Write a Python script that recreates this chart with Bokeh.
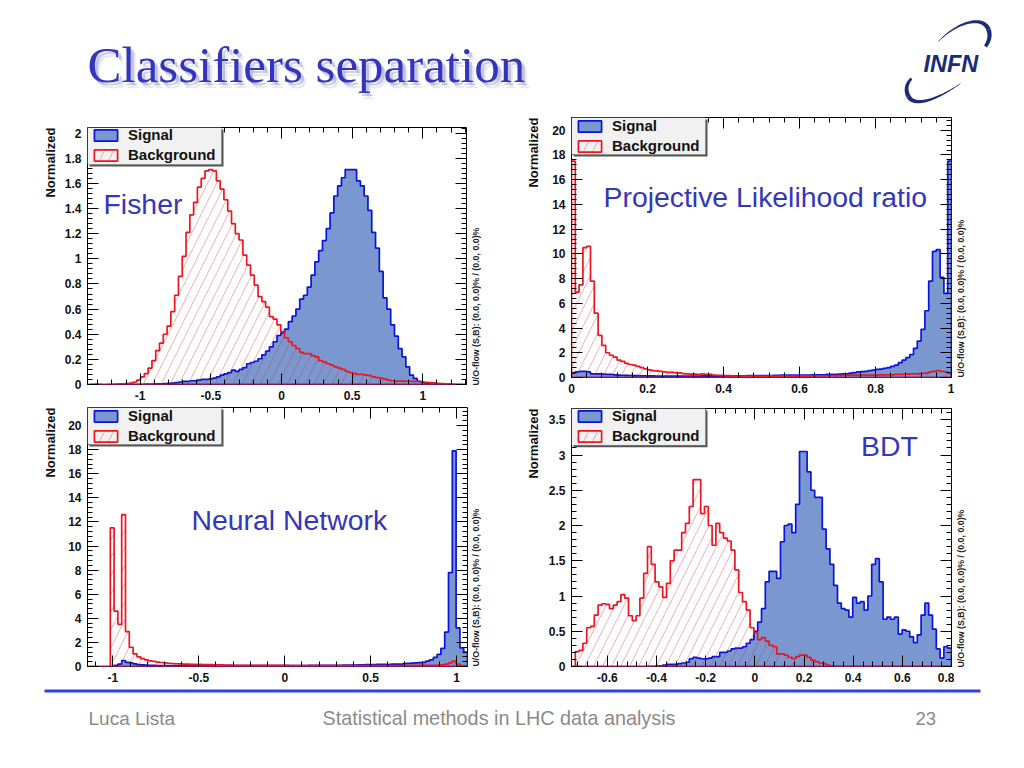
import numpy as np
from bokeh.plotting import figure
from bokeh.layouts import column, row
from bokeh.models import (Range1d, FixedTicker, LinearAxis, Label, Legend, LegendItem,
                          BoxAnnotation, CustomJSTickFormatter)
from bokeh.embed import file_html
from bokeh.resources import INLINE

fisher_signal = [0,0,0,0,0,0,0,0,0,0, 0,.001,.001,.001,.002,.003,.003,.004,.005,.006,
 .008,.01,.012,.015,.02,.025,.025,.03,.03,.035, .04,.04,.045,.05,.06,.075,.085,.095,.115,.105,
 .12,.135,.165,.175,.185,.205,.235,.265,.30,.34, .39,.41,.44,.50,.545,.60,.68,.71,.775,.87,
 .975,1.065,1.145,1.24,1.365,1.5,1.58,1.645,1.71,1.71, 1.71,1.62,1.58,1.5,1.385,1.21,1.085,.90,.69,.60,
 .475,.385,.285,.22,.14,.075,.048,.026,.018,.012, .008,.005,.003,.002,.001,0,0,0,0,0]
fisher_background = [0,.001,.003,.001,0,.001,.002,.004,.005,.006, .008,.012,.02,.035,.06,.087,.13,.19,.27,.33,
 .40,.465,.58,.71,.86,1.02,1.21,1.35,1.45,1.57, 1.64,1.70,1.71,1.70,1.62,1.555,1.47,1.38,1.28,1.2,
 1.15,1.03,.95,.87,.79,.70,.66,.615,.54,.52, .475,.42,.37,.34,.31,.285,.255,.245,.245,.23,
 .22,.19,.18,.165,.155,.14,.13,.12,.105,.095, .087,.08,.08,.075,.07,.06,.055,.05,.042,.035,
 .03,.027,.027,.027,.026,.026,.025,.024,.02,.018, .015,.013,.01,.008,.006,.005,.003,.002,.001,0]

likelihood_signal = [.35,.45,.5,.5,.45,.3,.3,.3,.28,.26, .25,.22,.2,.18,.17,.16,.15,.15,.14,.14,
 .13,.13,.12,.12,.12,.12,.12,.12,.12,.12, .12,.12,.12,.12,.13,.13,.13,.13,.13,.13,
 .13,.13,.14,.14,.14,.14,.15,.15,.15,.15, .15,.15,.16,.17,.18,.19,.2,.2,.2,.2,
 .2,.2,.2,.21,.21,.22,.22,.25,.25,.26, .28,.3,.3,.35,.4,.45,.48,.5,.55,.6,
 .65,.68,.75,.8,.9,1.0,1.2,1.4,1.6,1.85, 2.35,2.95,3.9,5.4,7.8,10.2,10.35,8.1,6.8,17.5]
likelihood_background = [17.5,6.9,7.5,10.5,10.6,7.8,5.2,3.4,2.6,2.0, 1.8,1.65,1.4,1.3,1.15,1.05,1.0,.9,.8,.7,
 .62,.55,.53,.5,.45,.42,.42,.4,.38,.32, .3,.28,.28,.25,.3,.25,.25,.2,.18,.17,
 .15,.15,.13,.12,.12,.12,.12,.12,.12,.12, .12,.12,.13,.12,.12,.13,.13,.12,.13,.12,
 .13,.13,.13,.14,.14,.14,.14,.16,.16,.15, .16,.17,.18,.19,.19,.2,.2,.2,.2,.2,
 .2,.22,.22,.22,.22,.25,.25,.25,.28,.3, .3,.32,.33,.35,.45,.5,.55,.5,.45,.35]

nn_signal = [0,0,0,0,0,0,0,.1,.2,.5, .35,.3,.22,.15,.14,.12,.1,.09,.08,.08,
 .08,.08,.08,.08,.08,.08,.08,.08,.08,.08, .07,.07,.07,.07,.07,.07,.07,.07,.07,.07,
 .07,.07,.07,.07,.07,.07,.07,.07,.07,.07, .08,.08,.08,.08,.08,.08,.08,.08,.09,.09,
 .09,.09,.09,.1,.1,.1,.1,.11,.11,.11, .12,.13,.14,.15,.16,.16,.17,.17,.18,.18,
 .19,.2,.2,.24,.26,.28,.3,.32,.35,.45, .55,.75,1.0,1.5,2.85,7.8,17.9,3.2,1.55,1.2]
nn_background = [0,0,0,0,0,0,11.5,4.6,3.5,12.6, 2.9,1.6,1.05,.8,.65,.55,.47,.42,.37,.33,
 .3,.27,.25,.23,.22,.2,.2,.18,.18,.17, .16,.15,.15,.14,.14,.13,.12,.12,.1,.1,
 .09,.09,.09,.09,.09,.09,.09,.09,.09,.09, .09,.09,.09,.08,.08,.08,.08,.08,.08,.08,
 .08,.08,.08,.08,.08,.08,.08,.08,.08,.08, .08,.08,.08,.08,.08,.08,.08,.08,.08,.08,
 .08,.08,.08,.08,.08,.09,.09,.09,.09,.09, .09,.1,.12,.14,.2,.3,.45,.2,.08,.05]

bdt_signal = [0,0,0,0,0,0,0,0,0,0, 0,0,0,0,0,0,0,0,0,0,
 .002,.003,.005,.01,.02,.03,.03,.03,.04,.05, .06,.11,.13,.12,.11,.11,.12,.14,.14,.2,
 .2,.22,.25,.26,.26,.28,.33,.38,.5,.63, .82,1.2,1.35,1.35,1.25,1.77,2.0,2.02,1.9,2.3,
 3.05,3.05,2.76,2.5,2.4,2.4,1.95,1.67,1.45,1.15, .9,.82,.8,.7,.98,.9,.92,.8,1.0,1.45,
 1.53,1.2,.67,.7,.67,.7,.46,.52,.5,.42, .34,.45,.73,.9,.73,.53,.25,.12,.28,.26]
bdt_background = [0,.21,.23,.33,.55,.57,.73,.87,.89,.88, .82,.87,.92,1.02,.97,.72,.65,.72,.97,1.32,
 1.7,1.45,1.2,1.13,.98,1.18,1.5,1.65,1.65,1.9, 2.03,2.27,2.65,2.65,2.17,2.27,2.0,1.72,2.03,1.9,
 1.82,1.78,1.65,1.37,1.05,.92,.8,.55,.48,.38, .41,.36,.3,.28,.18,.18,.16,.13,.11,.14,
 .16,.16,.13,.09,.07,.05,.04,.02,.01,.005, .003,.003,.003,.002,.002,.002,.002,.002,.002,.002,
 .002,.002,.002,.002,.002,.002,.002,.002,.002,.002, .002,.002,.002,.002,.002,.002,.002,.002,.002,.002]

fisher_xticks = [-1, -0.5, 0, 0.5, 1]
fisher_yticks = [0, .2, .4, .6, .8, 1, 1.2, 1.4, 1.6, 1.8, 2]
likelihood_xticks = [0, .2, .4, .6, .8, 1]
likelihood_yticks = [0, 2, 4, 6, 8, 10, 12, 14, 16, 18, 20]
nn_xticks = [-1, -0.5, 0, 0.5, 1]
nn_yticks = [0, 2, 4, 6, 8, 10, 12, 14, 16, 18, 20]
bdt_xticks = [-.6, -.4, -.2, 0, .2, .4, .6, .8]
bdt_yticks = [0, .5, 1, 1.5, 2, 2.5, 3, 3.5]

TITLE = "Classifiers separation"
UO = "U/O-flow (S,B): (0.0, 0.0)% / (0.0, 0.0)%"
YLABEL = "Normalized"
BLUE_TEXT = "#3636b8"
SANS = "Liberation Sans"


def minor(ticks, lo, hi, n=5):
    step = (ticks[1] - ticks[0]) / n
    k0 = int(np.ceil((lo - ticks[0]) / step))
    k1 = int(np.floor((hi - ticks[0]) / step))
    return [round(ticks[0] + k * step, 6) for k in range(k0, k1 + 1)]


def outline(values, lo, hi):
    edges = np.linspace(lo, hi, len(values) + 1)
    xs, ys = [edges[0]], [0.0]
    for i, v in enumerate(values):
        xs += [edges[i], edges[i + 1]]
        ys += [v, v]
    xs.append(edges[-1])
    ys.append(0.0)
    return xs, ys


def slide_area(x0, y0, x1, y1):
    """A figure without axes whose data coordinates are the slide's pixels."""
    f = figure(width=x1 - x0, height=y1 - y0, x_range=Range1d(x0, x1), y_range=Range1d(y1, y0),
               x_axis_type=None, y_axis_type=None, min_border=0, output_backend="svg",
               toolbar_location=None, outline_line_color=None, frame_align=False)
    f.grid.visible = False
    return f


def side_text(text, x0, y0, x1, y1, x, y, align, size, color):
    f = slide_area(x0, y0, x1, y1)
    f.add_layout(Label(x=x, y=y, text=text, angle=90, angle_units="deg", text_align=align,
                       text_baseline="middle", text_font=SANS, text_font_style="bold",
                       text_font_size=size, text_color=color))
    return f


def panel(sig, bkg, xr, yr, xticks, yticks, box, frame, caption, legend_dy):
    bx0, by0, bx1, by1 = box
    fx0, fy0, fx1, fy1 = frame
    p = figure(width=bx1 - bx0, height=by1 - by0, x_range=Range1d(*xr), y_range=Range1d(*yr),
               min_border_left=fx0 - bx0, min_border_right=bx1 - fx1,
               min_border_top=fy0 - by0, min_border_bottom=by1 - fy1,
               output_backend="svg", toolbar_location=None, background_fill_color="white",
               border_fill_color="white", frame_align=False)
    p.grid.visible = False
    p.outline_line_color = "black"
    p.outline_line_width = 1
    X = lambda px: xr[0] + (px - fx0) / (fx1 - fx0) * (xr[1] - xr[0])
    Y = lambda py: yr[0] + (fy1 - py) / (fy1 - fy0) * (yr[1] - yr[0])
    xt = FixedTicker(ticks=xticks, minor_ticks=minor(xticks, *xr))
    yt = FixedTicker(ticks=yticks, minor_ticks=minor(yticks, *yr))
    blank = CustomJSTickFormatter(code="return ''")
    top_axis = LinearAxis(ticker=xt, formatter=blank)
    right_axis = LinearAxis(ticker=yt, formatter=blank)
    p.add_layout(top_axis, "above")
    p.add_layout(right_axis, "right")
    p.xaxis.ticker = xt
    p.yaxis.ticker = yt
    for ax in list(p.xaxis) + list(p.yaxis):
        ax.axis_line_color = None
        ax.major_tick_in = 11
        ax.major_tick_out = 0
        ax.minor_tick_in = 5
        ax.minor_tick_out = 0
        ax.major_tick_line_width = 1
        ax.major_label_text_font = SANS
        ax.major_label_text_font_style = "bold"
        ax.major_label_text_font_size = "12px"
        ax.major_label_text_color = "#111111"
        ax.major_label_standoff = 6
    p.below[0].formatter = CustomJSTickFormatter(code="return String(Math.round(tick * 1000) / 1000)")
    top_axis.major_label_standoff = 0
    right_axis.major_label_standoff = 0
    sx, sy = outline(sig, *xr)
    bx, by = outline(bkg, *xr)
    r1 = p.patch(sx, sy, fill_color="#7a98cf", line_color="#0a14d8", line_width=1.7)
    r2 = p.patch(bx, by, fill_color=None, line_color="#ee1520", line_width=1.7,
                 hatch_pattern="right_diagonal_line", hatch_color="#d8202a", hatch_weight=0.5,
                 hatch_scale=18, hatch_alpha=0.7)
    # legend box with shadow
    lx0, ly0, lx1, ly1 = fx0, fy0, fx0 + 134, fy0 + 37
    p.add_layout(BoxAnnotation(left=X(lx0 + 2), right=X(lx1 + 2), bottom=Y(ly1 + 2), top=Y(ly0 + 2),
                               fill_color="#555555", fill_alpha=1, line_color=None))
    p.add_layout(BoxAnnotation(left=X(lx0), right=X(lx1), bottom=Y(ly1), top=Y(ly0),
                               fill_color="#f1f1f1", fill_alpha=1, line_color="#333333", line_width=0.6))
    leg = Legend(items=[LegendItem(label="Signal", renderers=[r1]),
                        LegendItem(label="Background", renderers=[r2])],
                 location=(4, (fy1 - fy0) - 36 - legend_dy), background_fill_alpha=0, border_line_color=None,
                 padding=2, spacing=3, margin=0, glyph_width=29, glyph_height=14, label_standoff=8,
                 label_text_font=SANS, label_text_font_style="bold", label_text_font_size="15px",
                 label_text_color="#111111", label_height=14)
    p.add_layout(leg)
    p.add_layout(Label(x=X(caption[1]), y=Y(caption[2]), text=caption[0], text_font=SANS,
                       text_font_size="28.4px", text_color=BLUE_TEXT, text_baseline="middle"))
    return p


# header
header = slide_area(0, 0, 1016, 113)
for dx, dy, a in ((5, 6, .12), (3, 3.5, .25)):
    header.add_layout(Label(x=87 + dx, y=92 + dy, text=TITLE, text_font="Liberation Serif",
                            text_font_size="51px", text_color="#40409a", text_alpha=a))
header.add_layout(Label(x=87, y=92, text=TITLE, text_font="Liberation Serif",
                        text_font_size="51px", text_color="#3434bc"))


def crescent(p0, p1, p2, p3, w0, w1, color):
    t = np.linspace(0, 1, 60)[:, None]
    P = ((1 - t) ** 3) * np.array(p0) + 3 * ((1 - t) ** 2) * t * np.array(p1) + 3 * (1 - t) * t ** 2 * np.array(p2) + t ** 3 * np.array(p3)
    d = np.gradient(P, axis=0)
    n = np.stack([-d[:, 1], d[:, 0]], axis=1) / np.linalg.norm(d, axis=1, keepdims=True)
    w = (w0 + (w1 - w0) * t) / 2
    a, b = P + n * w, P - n * w
    header.patch(np.r_[a[:, 0], b[::-1, 0]], np.r_[a[:, 1], b[::-1, 1]], fill_color=color, line_color=None)


crescent((938, 41), (956, 22), (982, 14), (988, 29), 0.5, 4.5, "#1c2a78")
crescent((988, 29), (990, 35), (989, 40), (985, 46), 4.5, 3.5, "#1c2a78")
crescent((960, 83), (940, 97), (915, 108), (908, 96), 0.5, 4.5, "#1c2a78")
crescent((908, 96), (904, 88), (907, 82), (911, 78), 4.5, 2.5, "#1c2a78")
header.add_layout(Label(x=923, y=76, text="INFN", text_font=SANS, text_font_style="bold italic",
                        text_font_size="23.5px", text_color="#1c2a78"))

fisher = panel(fisher_signal, fisher_background, (-1.373, 1.309), (0, 2.045), fisher_xticks, fisher_yticks,
               (57, 113, 470, 402), (87, 127, 466, 384), ("Fisher", 103, 203), 0)
likelihood = panel(likelihood_signal, likelihood_background, (0, 1), (0, 21.03), likelihood_xticks, likelihood_yticks,
                   (540, 113, 954, 402), (571, 117, 951, 377), ("Projective Likelihood ratio", 603, 196), 1)
nn = panel(nn_signal, nn_background, (-1.148, 1.064), (0, 21.5), nn_xticks, nn_yticks,
           (57, 402, 470, 684), (87, 407, 467, 666), ("Neural Network", 191, 519), 1)
bdt = panel(bdt_signal, bdt_background, (-.746, .8), (0, 3.66), bdt_xticks, bdt_yticks,
            (540, 402, 954, 684), (571, 408, 951, 667), ("BDT", 860.5, 446), 1)

row1 = row(side_text(YLABEL, 0, 113, 57, 402, 50, 127, "right", "13px", "#111111"), fisher,
           side_text(UO, 470, 113, 481, 402, 475, 385, "left", "8.8px", "#222222"),
           side_text(YLABEL, 481, 113, 540, 402, 533, 117, "right", "13px", "#111111"), likelihood,
           side_text(UO, 954, 113, 1016, 402, 960, 377, "left", "8.8px", "#222222"), spacing=0)
row2 = row(side_text(YLABEL, 0, 402, 57, 684, 50, 407, "right", "13px", "#111111"), nn,
           side_text(UO, 470, 402, 481, 684, 475, 666, "left", "8.8px", "#222222"),
           side_text(YLABEL, 481, 402, 540, 684, 533, 408, "right", "13px", "#111111"), bdt,
           side_text(UO, 954, 402, 1016, 684, 960, 667, "left", "8.8px", "#222222"), spacing=0)

footer = slide_area(0, 684, 1016, 760)
footer.line([44, 980], [690.5, 690.5], line_color="#3040e0", line_width=3.2)
for txt, x, size in (("Luca Lista", 88, "19px"), ("Statistical methods in LHC data analysis", 322, "19.8px"), ("23", 915, "18.5px")):
    footer.add_layout(Label(x=x, y=717.5, text=txt, text_font=SANS, text_font_size=size,
                            text_color="#8a8a8a", text_baseline="middle"))

page = column(header, row1, row2, footer, spacing=0)
open("out.html", "w").write(file_html(page, INLINE))
